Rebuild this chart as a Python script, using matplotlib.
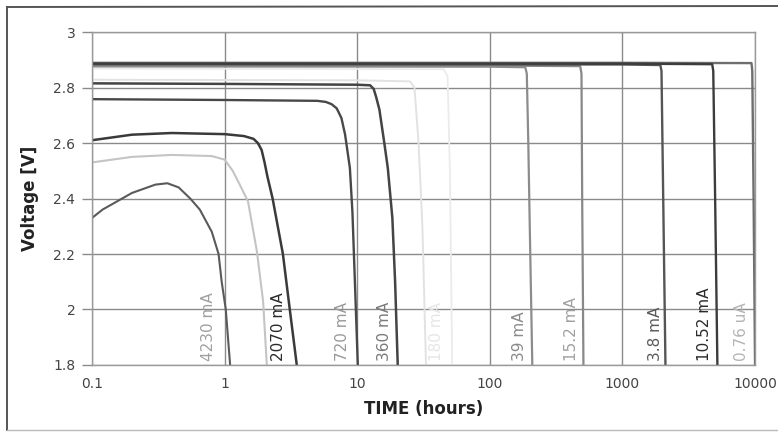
import matplotlib
matplotlib.use("Agg")
import matplotlib.pyplot as plt
from matplotlib.lines import Line2D

# discharge curves: time in hours, voltage in V
t_4230 = [0.1, 0.12, 0.2, 0.3, 0.37, 0.45, 0.55, 0.65, 0.8, 0.9, 0.95, 1.02, 1.1]
v_4230 = [2.33, 2.36, 2.42, 2.45, 2.455, 2.44, 2.40, 2.36, 2.28, 2.2, 2.1, 2.0, 1.8]

t_light = [0.1, 0.2, 0.4, 0.8, 1.0, 1.15, 1.3, 1.5, 1.75, 1.95, 2.08]
v_light = [2.53, 2.55, 2.557, 2.553, 2.54, 2.5, 2.45, 2.39, 2.21, 2.03, 1.8]

t_2070 = [0.1, 0.2, 0.4, 1.0, 1.4, 1.65, 1.78, 1.9, 2.0, 2.1, 2.3, 2.75, 3.1, 3.5]
v_2070 = [2.61, 2.63, 2.636, 2.632, 2.625, 2.615, 2.6, 2.575, 2.53, 2.48, 2.40, 2.2, 2.0, 1.8]

t_720 = [0.1, 1, 5, 5.8, 6.4, 7, 7.6, 8.1, 8.8, 9.2, 9.6, 10.1]
v_720 = [2.758, 2.755, 2.752, 2.748, 2.74, 2.725, 2.69, 2.63, 2.51, 2.35, 2.1, 1.8]

t_360 = [0.1, 1, 10, 12.5, 13.3, 13.9, 14.7, 16, 17, 18.4, 19.3, 20.2]
v_360 = [2.815, 2.813, 2.81, 2.808, 2.795, 2.765, 2.72, 2.6, 2.51, 2.33, 2.1, 1.8]

t_180 = [0.1, 10, 25, 27, 29, 31, 33]
v_180 = [2.828, 2.826, 2.822, 2.80, 2.6, 2.3, 1.8]

t_90 = [0.1, 45, 48, 50, 52]
v_90 = [2.868, 2.866, 2.84, 2.5, 1.8]

t_39 = [0.1, 100, 185, 190, 195, 200, 209]
v_39 = [2.876, 2.875, 2.873, 2.85, 2.6, 2.3, 1.8]

t_15 = [0.1, 100, 480, 491, 497, 508]
v_15 = [2.880, 2.879, 2.877, 2.85, 2.4, 1.8]

t_3_8 = [0.1, 1000, 1930, 1970, 2030, 2110]
v_3_8 = [2.884, 2.883, 2.881, 2.86, 2.4, 1.8]

t_052 = [0.1, 1000, 4750, 4840, 5000, 5200]
v_052 = [2.886, 2.886, 2.884, 2.86, 2.4, 1.8]

t_0076 = [0.1, 1000, 9400, 9530, 9750, 10000]
v_0076 = [2.889, 2.889, 2.888, 2.86, 2.4, 1.8]

curves = [
    (t_90, v_90, "#ebebeb", 1.3),
    (t_180, v_180, "#e2e2e2", 1.4),
    (t_light, v_light, "#c4c4c4", 1.5),
    (t_39, v_39, "#8c8c8c", 1.6),
    (t_15, v_15, "#888888", 1.6),
    (t_0076, v_0076, "#6e6e6e", 1.7),
    (t_3_8, v_3_8, "#555555", 1.7),
    (t_052, v_052, "#3c3c3c", 1.7),
    (t_4230, v_4230, "#5a5a5a", 1.5),
    (t_2070, v_2070, "#3a3a3a", 1.8),
    (t_720, v_720, "#484848", 1.7),
    (t_360, v_360, "#444444", 1.8),
]

# curve labels written vertically at the foot of each curve
label_text = ["4230 mA", "2070 mA", "720 mA", "360 mA", "180 mA",
              "39 mA", "15.2 mA", "3.8 mA", "10.52 mA", "0.76 uA"]
label_x = [0.75, 2.56, 7.8, 16.1, 39.7, 167, 413, 1775, 4150, 7870]
label_color = ["#a0a0a0", "#2a2a2a", "#9a9a9a", "#7a7a7a", "#e6e6e6",
               "#8a8a8a", "#a0a0a0", "#5a5a5a", "#2a2a2a", "#b4b4b4"]

x_ticks = [0.1, 1, 10, 100, 1000, 10000]
x_tick_labels = ["0.1", "1", "10", "100", "1000", "10000"]
y_ticks = [1.8, 2.0, 2.2, 2.4, 2.6, 2.8, 3.0]
y_tick_labels = ["1.8", "2", "2.2", "2.4", "2.6", "2.8", "3"]

fig = plt.figure(figsize=(7.78, 4.32), dpi=100)
ax = fig.add_axes([0.1183, 0.1551, 0.8522, 0.7708])

for t, v, c, lw in curves:
    ax.plot(t, v, color=c, lw=lw, solid_capstyle="butt")

for txt, x, c in zip(label_text, label_x, label_color):
    ax.text(x, 1.815, txt, rotation=90, ha="center", va="bottom",
            color=c, fontsize=11)

ax.set_xscale("log")
ax.set_xlim(0.1, 10000)
ax.set_ylim(1.8, 3.0)
ax.set_xticks(x_ticks)
ax.set_xticklabels(x_tick_labels)
ax.minorticks_off()
ax.set_yticks(y_ticks)
ax.set_yticklabels(y_tick_labels)
ax.grid(True, color="#8a8a8a", lw=1.0)
ax.set_axisbelow(True)
ax.tick_params(axis="x", length=0, pad=9, labelsize=10, labelcolor="#444444")
ax.tick_params(axis="y", length=7, width=1.0, color="#8a8a8a", pad=5,
               labelsize=10, labelcolor="#444444")
for s in ax.spines.values():
    s.set_color("#9a9a9a")
    s.set_linewidth(1.0)

ax.set_xlabel("TIME (hours)", fontsize=12, fontweight="bold", color="#222222", labelpad=6)
ax.set_ylabel("Voltage [V]", fontsize=12, fontweight="bold", color="#222222", labelpad=10)

# scanned frame around the chart
fig.add_artist(Line2D([7 / 778, 7 / 778], [2 / 432, 1 - 7 / 432],
                      transform=fig.transFigure, color="#555555", lw=1.4))
fig.add_artist(Line2D([7 / 778, 1.0], [1 - 7 / 432, 1 - 6 / 432],
                      transform=fig.transFigure, color="#555555", lw=1.4))
fig.add_artist(Line2D([7 / 778, 1.0], [2 / 432, 2 / 432],
                      transform=fig.transFigure, color="#bbbbbb", lw=1.0))

fig.savefig("out.png", dpi=100)
